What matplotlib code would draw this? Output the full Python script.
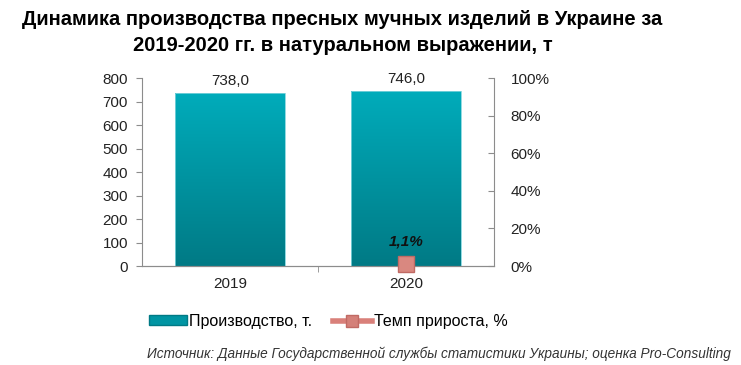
import numpy as np
import matplotlib.pyplot as plt
from matplotlib.lines import Line2D
from matplotlib.patches import Patch
from matplotlib.colors import LinearSegmentedColormap

plt.rcParams['font.family'] = ['Liberation Sans', 'DejaVu Sans']

years = ['2019', '2020']
production = [738.0, 746.0]
growth_years = ['2020']
growth = [1.1]

fig = plt.figure(figsize=(7.41, 3.65), dpi=100)
ax = fig.add_axes([0.1916, 0.2712, 0.4751, 0.5151])
ax2 = ax.twinx()

x = np.arange(len(years))
bars = ax.bar(x, production, width=0.62, color='none', edgecolor='#7fd3dc', linewidth=0.6, zorder=2)

# vertical gradient inside bars
cmap = LinearSegmentedColormap.from_list('teal', ['#007a85', '#00acbb'])
grad = np.linspace(0, 1, 256).reshape(-1, 1)
for b in bars:
    x0, y0 = b.get_x(), b.get_y()
    im = ax.imshow(grad, cmap=cmap, aspect='auto', origin='lower',
                   extent=[x0, x0 + b.get_width(), y0, y0 + b.get_height()], zorder=1)
    im.set_clip_path(b)

for xi, v in zip(x, production):
    ax.text(xi, v + 18, f'{v:.1f}'.replace('.', ','), ha='center', va='bottom', fontsize=11, color='#222222')

ax.set_xlim(-0.5, 1.5)
ax.set_ylim(0, 800)
ax.set_yticks(range(0, 801, 100))
ax.set_xticks(x)
ax.set_xticklabels(years)

gx = [years.index(g) for g in growth_years]
ax2.plot(gx, growth, color='#d9807a', marker='s', markersize=12, markerfacecolor='#d98880',
         markeredgecolor='#c06a64', linewidth=3, zorder=3, clip_on=False)
for xi, v in zip(gx, growth):
    ax2.text(xi, v + 8, f'{v:.1f}%'.replace('.', ','), ha='center', va='bottom',
             fontsize=11, fontweight='bold', fontstyle='italic', color='#111111')
ax2.set_ylim(0, 100)
ax2.set_yticks(range(0, 101, 20))
ax2.set_yticklabels([f'{t}%' for t in range(0, 101, 20)])

for a in (ax, ax2):
    a.spines['top'].set_visible(False)
    a.spines['left'].set_color('#8c8c8c')
    a.spines['right'].set_color('#8c8c8c')
    a.spines['bottom'].set_color('#8c8c8c')
    a.tick_params(labelsize=11, colors='#222222')
ax.spines['right'].set_visible(False)
ax2.spines['left'].set_visible(False)
ax.tick_params(axis='y', length=4, color='#8c8c8c', pad=6)
ax.tick_params(axis='x', length=0, pad=8)
ax2.tick_params(axis='y', direction='in', length=4, color='#8c8c8c', pad=12)
ax.set_xticks([0.5], minor=True)
ax.tick_params(axis='x', which='minor', length=4, color='#8c8c8c')

fig.text(0.462, 0.972, 'Динамика производства пресных мучных изделий в Украине за\n2019-2020 гг. в натуральном выражении, т',
         ha='center', va='top', fontsize=14.5, fontweight='bold', linespacing=1.42)

handles = [Patch(facecolor='#0095a3', edgecolor='#007a85'),
           Line2D([], [], color='#d9807a', linewidth=4, marker='s', markersize=9,
                  markerfacecolor='#d48079', markeredgecolor='#c06a64')]
fig.legend(handles, ['Производство, т.', 'Темп прироста, %'], loc='center',
           bbox_to_anchor=(0.443, 0.12), ncol=2, frameon=False, fontsize=11.5,
           handlelength=2.4, handletextpad=0.15, columnspacing=1.3, handleheight=0.5)

fig.text(0.986, 0.012, 'Источник: Данные Государственной службы статистики Украины; оценка Pro-Consulting',
         ha='right', va='bottom', fontsize=9.8, fontstyle='italic', color='#333333')

fig.savefig('out.png', dpi=100)
